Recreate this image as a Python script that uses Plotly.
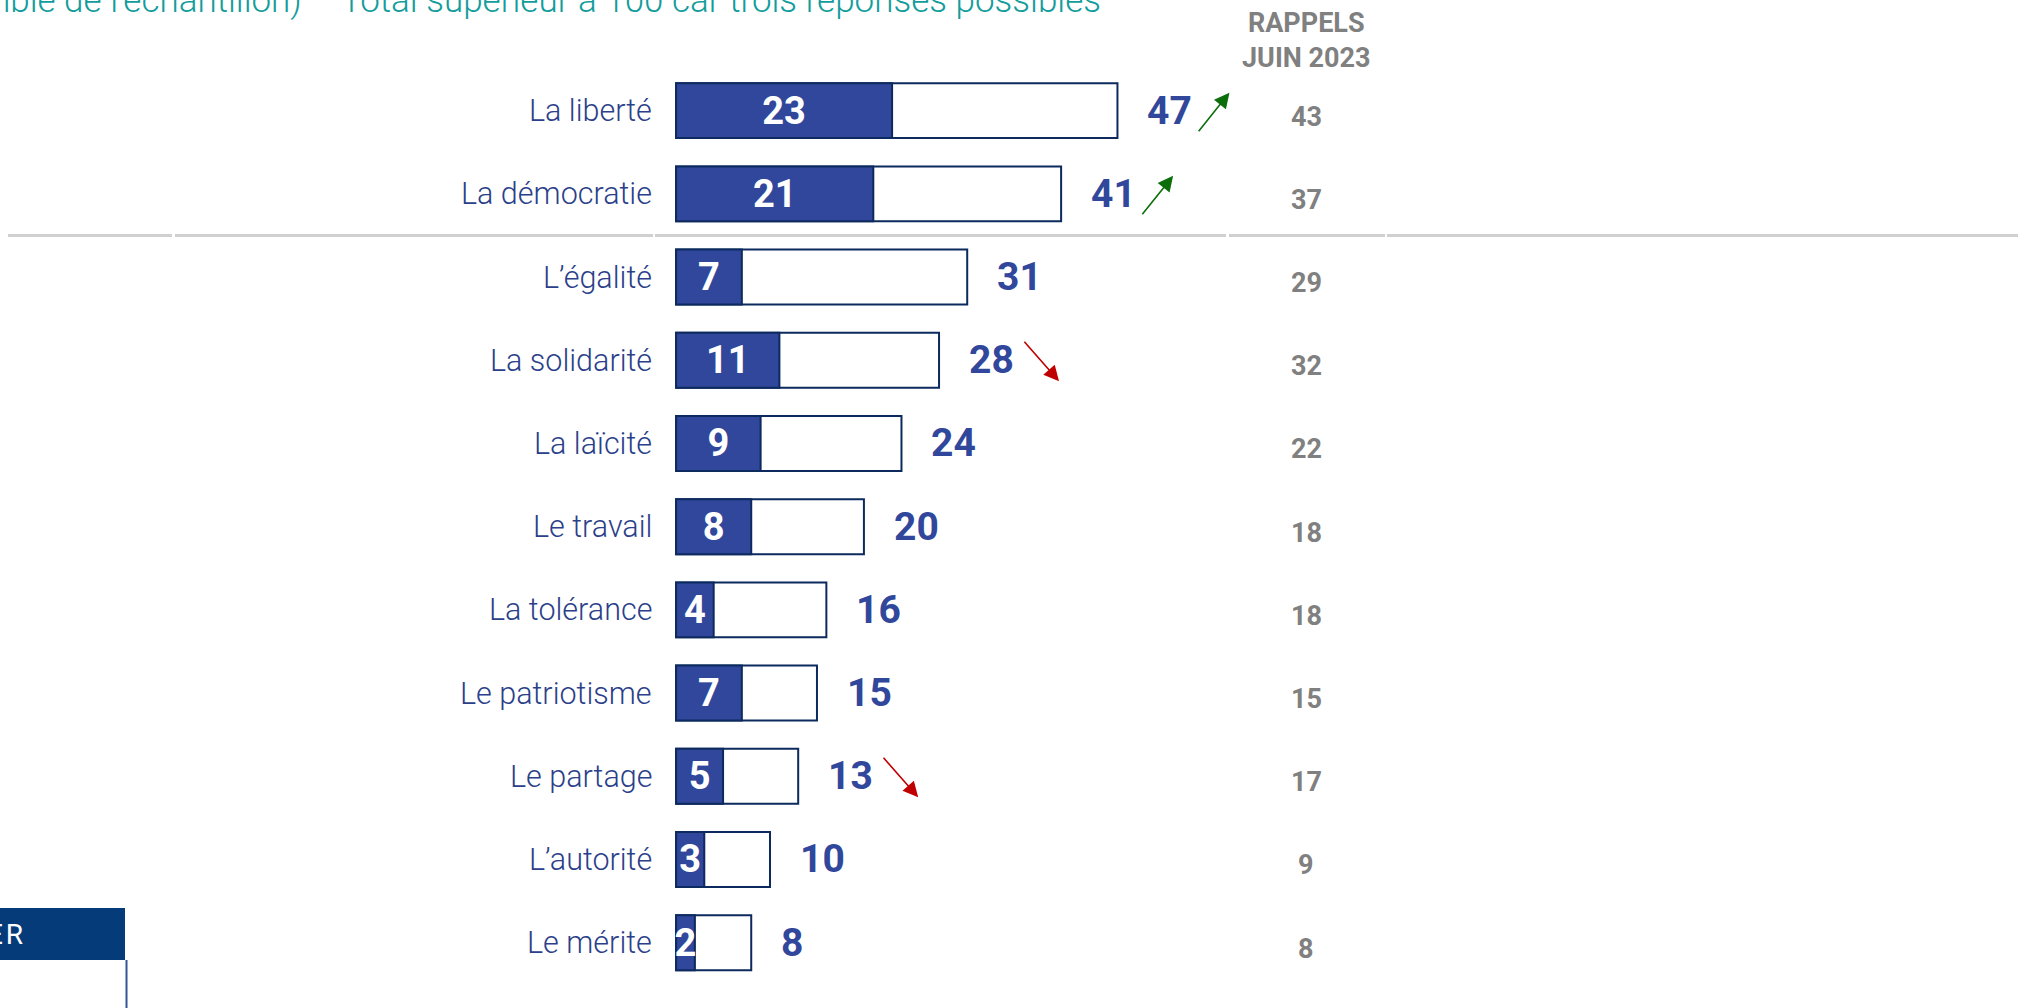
import plotly.graph_objects as go

# donnees
categories = ["La liberté", "La démocratie", "L’égalité", "La solidarité", "La laïcité",
              "Le travail", "La tolérance", "Le patriotisme", "Le partage", "L’autorité", "Le mérite"]
premier = [23, 21, 7, 11, 9, 8, 4, 7, 5, 3, 2]
total = [47, 41, 31, 28, 24, 20, 16, 15, 13, 10, 8]
rappels_juin2023 = [43, 37, 29, 32, 22, 18, 18, 15, 17, 9, 8]
evolution = ["up", "up", "", "down", "", "", "", "", "down", "", ""]
entete_rappels = "RAPPELS<br>JUIN 2023"
sous_titre = "ensemble de l’échantillon) – Total supérieur à 100 car trois réponses possibles"

W, H = 2018, 1008
bleu = "#30479C"
navy = "#0D2A5E"
txt_cat = "#2B3F8A"
gris = "#808080"

def px(x): return x / W
def py(y): return 1 - y / H

fig = go.Figure()
fig.add_trace(go.Bar(y=categories, x=total, orientation='h', width=0.66,
                     marker={'color': 'white', 'line': {'color': navy, 'width': 2}},
                     hoverinfo='skip'))
fig.add_trace(go.Bar(y=categories, x=premier, orientation='h', width=0.66,
                     marker={'color': bleu, 'line': {'color': navy, 'width': 2}},
                     text=[str(v) for v in premier], textposition='inside',
                     insidetextanchor='middle', textangle=0, constraintext='none',
                     textfont={'family': 'Roboto', 'size': 38, 'color': 'white', 'weight': 'bold'},
                     hoverinfo='skip'))

ann = []
for i, c in enumerate(categories):
    # libelle
    ann.append(dict(x=0, y=c, xref='x', yref='y', text=c, showarrow=False,
                    xanchor='right', xshift=-22,
                    font={'family': 'Roboto', 'size': 30.5, 'color': txt_cat, 'weight': 300}))
    # total
    ann.append(dict(x=total[i], y=c, xref='x', yref='y', text=str(total[i]), showarrow=False,
                    xanchor='left', xshift=28,
                    font={'family': 'Roboto', 'size': 39, 'color': bleu, 'weight': 'bold'}))
    # rappel
    ann.append(dict(x=px(1306), y=c, xref='paper', yref='y', text=str(rappels_juin2023[i]),
                    showarrow=False, xanchor='center', yshift=-6,
                    font={'family': 'Roboto', 'size': 27, 'color': gris, 'weight': 'bold'}))
    if evolution[i] == 'up':
        ann.append(dict(x=total[i], y=c, xref='x', yref='y', text='', showarrow=True,
                        xshift=112, yshift=18, ax=-32, ay=40,
                        arrowhead=2, arrowsize=1.9, arrowwidth=1.6, arrowcolor='#0B6E0B'))
    elif evolution[i] == 'down':
        ann.append(dict(x=total[i], y=c, xref='x', yref='y', text='', showarrow=True,
                        xshift=120, yshift=-21, ax=-36, ay=-41,
                        arrowhead=2, arrowsize=1.9, arrowwidth=1.6, arrowcolor='#C00000'))

ann.append(dict(x=px(1306), y=py(41), xref='paper', yref='paper', text=entete_rappels,
                showarrow=False, xanchor='center', yanchor='middle',
                font={'family': 'Roboto', 'size': 27, 'color': gris, 'weight': 'bold'}))
ann.append(dict(x=px(1103), y=py(1), xref='paper', yref='paper', text=sous_titre,
                showarrow=False, xanchor='right', yanchor='middle',
                font={'family': 'Roboto', 'size': 35, 'color': '#139C9C', 'weight': 300}))
ann.append(dict(x=px(25), y=py(934), xref='paper', yref='paper', text='E\u200aR',
                showarrow=False, xanchor='right', yanchor='middle',
                font={'family': 'Roboto', 'size': 28, 'color': 'white'}))

shapes = []
# ligne grise separatrice (segments de tableau)
for a, b in [(8, 172), (175, 653), (655, 1226), (1229, 1385), (1387, 2018)]:
    shapes.append(dict(type='line', xref='paper', yref='y', x0=px(a), x1=px(b), y0=1.5, y1=1.5,
                       line={'color': '#D0D0D0', 'width': 3}, layer='below'))
# encadre bas gauche
shapes.append(dict(type='rect', xref='paper', yref='paper', x0=0, x1=px(125), y0=py(960), y1=py(908),
                   fillcolor='#063B7A', line={'width': 0}))
shapes.append(dict(type='line', xref='paper', yref='paper', x0=px(126.5), x1=px(126.5), y0=py(960), y1=0,
                   line={'color': '#2F5597', 'width': 2}))

fig.update_layout(width=W, height=H, barmode='overlay', showlegend=False,
                  margin=dict(l=0, r=0, t=0, b=0),
                  paper_bgcolor='white', plot_bgcolor='white',
                  annotations=ann, shapes=shapes,
                  uniformtext={'minsize': 38, 'mode': 'show'})
fig.update_xaxes(range=[-72.0, 142.9], visible=False, fixedrange=True)
fig.update_yaxes(type='category', categoryarray=categories, range=[10.785, -1.33],
                 visible=False, fixedrange=True)
fig.write_html("out.html", config={'displayModeBar': False},
               post_script="document.body.style.margin='0';")
